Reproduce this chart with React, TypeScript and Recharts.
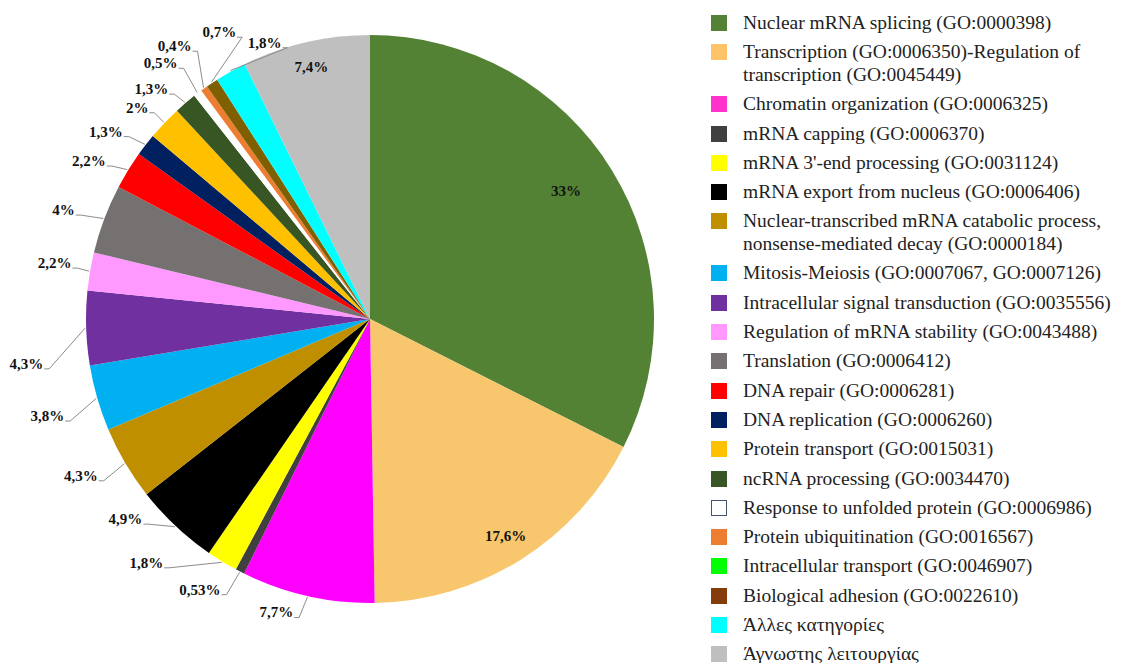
import React from 'react';
import { PieChart, Pie, Cell, Legend } from 'recharts';

const categories: string[] = [
  'Nuclear mRNA splicing (GO:0000398)',
  'Transcription (GO:0006350)-Regulation of transcription (GO:0045449)',
  'Chromatin organization (GO:0006325)',
  'mRNA capping (GO:0006370)',
  "mRNA 3'-end processing (GO:0031124)",
  'mRNA export from nucleus (GO:0006406)',
  'Nuclear-transcribed mRNA catabolic process, nonsense-mediated decay (GO:0000184)',
  'Mitosis-Meiosis  (GO:0007067, GO:0007126)',
  'Intracellular signal transduction (GO:0035556)',
  'Regulation of mRNA stability (GO:0043488)',
  'Translation (GO:0006412)',
  'DNA repair (GO:0006281)',
  'DNA replication (GO:0006260)',
  'Protein transport (GO:0015031)',
  'ncRNA processing (GO:0034470)',
  'Response to unfolded protein (GO:0006986)',
  'Protein ubiquitination (GO:0016567)',
  'Intracellular transport (GO:0046907)',
  'Biological adhesion (GO:0022610)',
  'Άλλες κατηγορίες',
  'Άγνωστης λειτουργίας',
];

const values: number[] = [33, 17.6, 7.7, 0.53, 1.8, 4.9, 4.3, 3.8, 4.3, 2.2, 4, 2.2, 1.3, 2, 1.3, 0.5, 0.4, 0, 0.7, 1.8, 7.4];

const sliceColors: string[] = [
  '#548235', '#F8C66C', '#FF00FF', '#404040', '#FFFF00', '#000000', '#BF8F00', '#00B0F0',
  '#7030A0', '#FF99FF', '#767171', '#FF0000', '#002060', '#FFC000', '#375623', '#FFFFFF',
  '#ED7D31', '#00FF00', '#7F6000', '#00FFFF', '#BFBFBF',
];

const legendColors: string[] = [
  '#548235', '#FFC46A', '#FF33CC', '#404040', '#FFFF00', '#000000', '#BF8F00', '#00B0F0',
  '#7030A0', '#FF99FF', '#767171', '#FF0000', '#002060', '#FFC000', '#375623', '#FFFFFF',
  '#ED7D31', '#00FF00', '#843C0C', '#00FFFF', '#BFBFBF',
];

const data = categories.map((name, i) => ({ name, value: values[i] }));

const FONT = 'Liberation Serif, Times New Roman, serif';

// label layout tweaks (label placement only)
const insideRadius: Record<number, number> = { 0: 0.86, 1: 0.9, 20: 0.91 };
const labelNudge: Record<number, [number, number]> = {
  2: [-3, -8],
  3: [-2, -4],
  4: [-40, -20],
  5: [-10, -25],
  7: [-3, 11],
  8: [-12, 35],
  9: [12, -4],
  11: [5, 4],
  12: [3, 2],
  13: [8, 2],
  14: [5, 5],
  15: [1, -10],
  16: [8, -22],
  18: [44, -30],
  19: [69, -7],
};

const RAD = Math.PI / 180;
const fmt = (v: number) => String(v).replace('.', ',') + '%';

const renderLabel = (props: any) => {
  const { cx, cy, midAngle, outerRadius, index, value } = props;
  if (!value) return null;
  const cos = Math.cos(-midAngle * RAD);
  const sin = Math.sin(-midAngle * RAD);
  if (insideRadius[index] !== undefined) {
    const r = outerRadius * insideRadius[index];
    let x = cx + r * cos;
    const y = cy + r * sin;
    if (index === 0) x -= 12;
    return (
      <text x={x} y={y} textAnchor="middle" dominantBaseline="central" fill="#111" fontFamily={FONT} fontWeight={700} fontSize={15}>
        {fmt(value)}
      </text>
    );
  }
  const ex = cx + (outerRadius + 1) * cos;
  const ey = cy + (outerRadius + 1) * sin;
  const n = labelNudge[index] || [0, 0];
  const lx = cx + (outerRadius + 25) * cos + n[0];
  const ly = cy + (outerRadius + 25) * sin + n[1];
  return (
    <g>
      <polyline
        points={`${ex},${ey} ${lx},${ly + 5} ${lx - 5},${ly + 5}`}
        fill="none"
        stroke="#8c8c8c"
        strokeWidth={1}
      />
      <text x={lx - 6} y={ly} textAnchor="end" dominantBaseline="central" fill="#111" fontFamily={FONT} fontWeight={700} fontSize={15}>
        {fmt(value)}
      </text>
    </g>
  );
};

const renderLegend = () => (
  <div style={{ fontFamily: FONT, fontSize: 19.5, color: '#222' }}>
    {categories.map((name, i) => (
      <div key={name} style={{ display: 'flex', alignItems: 'flex-start', lineHeight: '23px', height: i === 1 || i === 6 ? 52 : 29.3 }}>
        <span
          style={{
            display: 'inline-block',
            width: 16,
            height: 16,
            marginTop: 4,
            background: legendColors[i],
            border: i === 15 ? '1.5px solid #44546A' : 'none',
            boxSizing: 'border-box',
            flexShrink: 0,
          }}
        />
        <span style={{ marginLeft: 16, width: 375 }}>{name}</span>
      </div>
    ))}
  </div>
);

export default function App() {
  return (
    <div style={{ position: 'relative', width: 1118, height: 655 }}>
      <PieChart width={1118} height={655} margin={{ top: 0, right: 0, bottom: 0, left: 0 }} style={{ overflow: 'visible' }}>
        <Pie
          data={data}
          dataKey="value"
          nameKey="name"
          cx={362}
          cy={311}
          outerRadius={284}
          startAngle={90}
          endAngle={-270}
          stroke="none"
          label={renderLabel}
          labelLine={false}
          isAnimationActive={false}
        >
          {data.map((d, i) => (
            <Cell key={d.name} fill={sliceColors[i]} />
          ))}
        </Pie>
        <Legend
          content={renderLegend}
          layout="vertical"
          align="right"
          verticalAlign="top"
          wrapperStyle={{ position: 'absolute', left: 703, top: 3, width: 408 }}
        />
      </PieChart>
    </div>
  );
}
